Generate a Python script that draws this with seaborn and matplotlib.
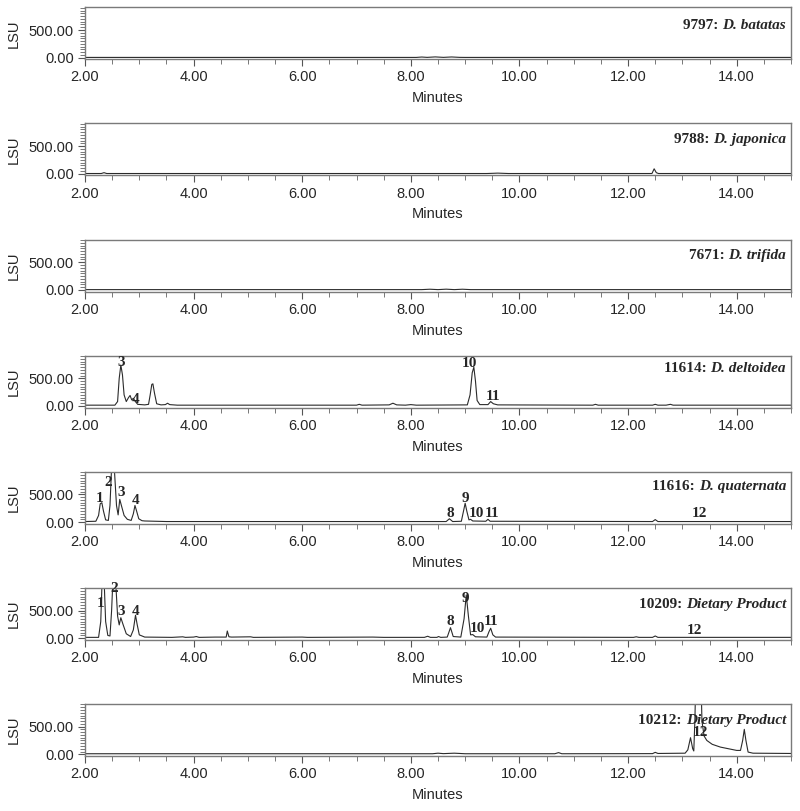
import numpy as np
import pandas as pd
import matplotlib
matplotlib.use("Agg")
import matplotlib.pyplot as plt
from matplotlib.ticker import MultipleLocator, FormatStrFormatter
import seaborn as sns

# ---------------- data ----------------
sample_ids = ["9797:", "9788:", "7671:", "11614:", "11616:", "10209:", "10212:"]
sample_names = ["D. batatas", "D. japonica", "D. trifida", "D. deltoidea",
                "D. quaternata", "Dietary Product", "Dietary Product"]

# traces: retention time (min) and signal (LSU), traced points
t_9797 = [2.0, 8.1, 8.2, 8.3, 8.45, 8.6, 8.75, 8.9, 9.0, 15.0]
y_9797 = [5, 5, 12, 6, 14, 6, 13, 6, 5, 5]

t_9788 = [2.0, 2.30, 2.35, 2.40, 9.4, 9.6, 9.8, 12.44, 12.48, 12.52, 12.56, 15.0]
y_9788 = [5, 5, 20, 5, 5, 12, 5, 5, 90, 20, 5, 5]

t_7671 = [2.0, 8.2, 8.35, 8.5, 8.65, 8.8, 8.95, 9.1, 15.0]
y_7671 = [5, 5, 12, 5, 13, 5, 12, 5, 5]

t_11614 = [2.0, 2.55, 2.60, 2.63, 2.66, 2.69, 2.72, 2.76, 2.80, 2.83, 2.86, 2.89,
           2.92, 2.97, 3.10, 3.17, 3.20, 3.23, 3.25, 3.28, 3.32, 3.40, 3.48, 3.52,
           3.56, 3.70, 7.00, 7.05, 7.10, 7.60, 7.67, 7.74, 7.90, 8.00, 8.10, 9.04,
           9.09, 9.13, 9.16, 9.19, 9.22, 9.27, 9.42, 9.47, 9.52, 9.60, 11.35, 11.40,
           11.45, 12.45, 12.50, 12.55, 12.70, 12.78, 12.83, 15.0]
y_11614 = [15, 15, 80, 500, 740, 560, 200, 80, 150, 190, 110, 140,
           90, 30, 20, 30, 200, 390, 400, 230, 40, 20, 25, 50,
           25, 15, 15, 30, 15, 20, 50, 20, 15, 25, 15, 20,
           200, 600, 700, 450, 100, 25, 25, 80, 40, 20, 15, 30,
           15, 15, 30, 15, 15, 30, 15, 15]

t_11616 = [2.0, 2.20, 2.25, 2.28, 2.31, 2.34, 2.38, 2.43, 2.46, 2.49, 2.52, 2.55,
           2.58, 2.61, 2.64, 2.67, 2.72, 2.78, 2.85, 2.89, 2.92, 2.95, 2.99, 3.05,
           3.10, 3.50, 8.65, 8.71, 8.77, 8.93, 8.97, 9.00, 9.03, 9.07, 9.10, 9.14,
           9.38, 9.42, 9.46, 12.45, 12.50, 12.55, 15.0]
y_11616 = [10, 15, 120, 330, 350, 200, 40, 30, 300, 1000, 1300, 800,
           300, 130, 410, 300, 120, 50, 30, 150, 300, 200, 60, 25,
           20, 10, 10, 60, 10, 15, 200, 340, 200, 40, 50, 20,
           15, 50, 15, 10, 45, 10, 10]

t_10209 = [2.0, 2.25, 2.29, 2.32, 2.35, 2.38, 2.42, 2.46, 2.49, 2.52, 2.56, 2.60,
           2.63, 2.66, 2.70, 2.76, 2.84, 2.89, 2.93, 2.96, 3.00, 3.10, 3.60, 3.80,
           3.85, 4.00, 4.05, 4.10, 4.40, 4.60, 4.62, 4.65, 4.70, 5.05, 5.10, 6.00,
           6.10, 7.30, 7.50, 8.25, 8.31, 8.36, 8.48, 8.51, 8.55, 8.67, 8.73, 8.78,
           8.92, 8.98, 9.02, 9.06, 9.10, 9.14, 9.19, 9.40, 9.44, 9.47, 9.51, 9.56,
           12.10, 12.15, 12.20, 12.45, 12.50, 12.55, 15.0]
y_10209 = [15, 15, 300, 1200, 1100, 300, 50, 40, 500, 1200, 1100, 400,
           240, 370, 250, 80, 30, 150, 415, 250, 60, 20, 15, 25,
           15, 20, 30, 15, 20, 20, 130, 25, 20, 25, 15, 20,
           15, 20, 15, 15, 35, 15, 15, 30, 15, 20, 190, 30,
           20, 350, 780, 400, 60, 65, 25, 20, 120, 180, 60, 20,
           15, 25, 15, 15, 40, 15, 15]

t_10212 = [2.0, 8.40, 8.50, 8.60, 8.80, 9.00, 10.65, 10.72, 10.78, 12.45, 12.50,
           12.55, 13.05, 13.10, 13.15, 13.19, 13.21, 13.23, 13.25, 13.34, 13.36,
           13.40, 13.45, 13.55, 13.70, 13.85, 14.00, 14.07, 14.11, 14.14, 14.17,
           14.21, 14.30, 15.0]
y_10212 = [10, 10, 20, 12, 20, 10, 10, 30, 10, 12, 35,
           15, 20, 80, 300, 100, 60, 600, 1500, 1500, 600,
           330, 250, 180, 130, 100, 70, 70, 250, 450, 250,
           40, 20, 15]

traces_t = [t_9797, t_9788, t_7671, t_11614, t_11616, t_10209, t_10212]
traces_y = [y_9797, y_9788, y_7671, y_11614, y_11616, y_10209, y_10212]

# peak number labels: (panel index, label, time, LSU)
peak_panel = [3, 3, 3, 3,
              4, 4, 4, 4, 4, 4, 4, 4, 4,
              5, 5, 5, 5, 5, 5, 5, 5, 5,
              6]
peak_text = ["3", "4", "10", "11",
             "1", "2", "3", "4", "8", "9", "10", "11", "12",
             "1", "2", "3", "4", "8", "9", "10", "11", "12",
             "12"]
peak_time = [2.66, 2.94, 9.07, 9.51,
             2.26, 2.42, 2.66, 2.94, 8.72, 9.00, 9.20, 9.50, 13.31,
             2.29, 2.53, 2.66, 2.94, 8.72, 9.00, 9.22, 9.48, 13.22,
             13.33]
peak_lsu = [790, 120, 770, 175,
            430, 715, 535, 390, 155, 430, 155, 155, 155,
            620, 905, 490, 490, 310, 725, 170, 295, 130,
            400]

# vertical placement of the sample label in each panel (axes fraction, bottom)
label_pos = [0.53, 0.56, 0.57, 0.63, 0.59, 0.56, 0.56]

# ---------------- style ----------------
sns.set_style("ticks")
plt.rcParams["font.family"] = ["Liberation Sans", "DejaVu Sans"]

fig = plt.figure(figsize=(8.0, 8.11), dpi=100)
W, H = 800.0, 811.0
left_px, width_px = 85.0, 706.0
top0, step, h_px = 7.3, 116.1, 52.0

serif = ["Liberation Serif", "DejaVu Serif"]
spine_col = "#7a7a7a"

for i in range(7):
    top = top0 + step * i
    ax = fig.add_axes([left_px / W, 1 - (top + h_px) / H, width_px / W, h_px / H])
    df = pd.DataFrame({"Minutes": traces_t[i], "LSU": traces_y[i]})
    sns.lineplot(data=df, x="Minutes", y="LSU", ax=ax, color="#2b2b2b",
                 linewidth=0.8, sort=False, estimator=None)
    ax.set_xlim(2.0, 15.0)
    ax.set_ylim(-29, 910)
    ax.xaxis.set_major_locator(MultipleLocator(2))
    ax.xaxis.set_minor_locator(MultipleLocator(0.5))
    ax.yaxis.set_major_locator(MultipleLocator(500))
    ax.yaxis.set_minor_locator(MultipleLocator(50))
    ax.xaxis.set_major_formatter(FormatStrFormatter("%.2f"))
    ax.yaxis.set_major_formatter(FormatStrFormatter("%.2f"))
    ax.tick_params(axis="both", which="major", length=5, width=0.8,
                   color="#555555", labelsize=10.5, pad=3)
    ax.tick_params(axis="both", which="minor", length=3.5, width=0.7,
                   color="#777777")
    for s in ax.spines.values():
        s.set_visible(True)
        s.set_color(spine_col)
        s.set_linewidth(1.0)
    ax.set_xlabel("Minutes", fontsize=10.5, labelpad=5)
    ax.set_ylabel("LSU", fontsize=10.5, labelpad=6)

    # sample label: bold id + bold italic name, right aligned
    t_name = ax.text(0.993, label_pos[i], sample_names[i], transform=ax.transAxes,
                     ha="right", va="bottom", family=serif, fontsize=11,
                     fontweight="bold", fontstyle="italic")
    ax.annotate(sample_ids[i] + " ", xy=(0, 0), xycoords=t_name,
                ha="right", va="bottom", family=serif, fontsize=11,
                fontweight="bold", annotation_clip=False)

    for p, lab, tt, yy in zip(peak_panel, peak_text, peak_time, peak_lsu):
        if p == i:
            ax.text(tt, yy, lab, ha="center", va="center", family=serif,
                    fontsize=11, fontweight="bold", clip_on=False)

fig.savefig("out.png", dpi=100)
